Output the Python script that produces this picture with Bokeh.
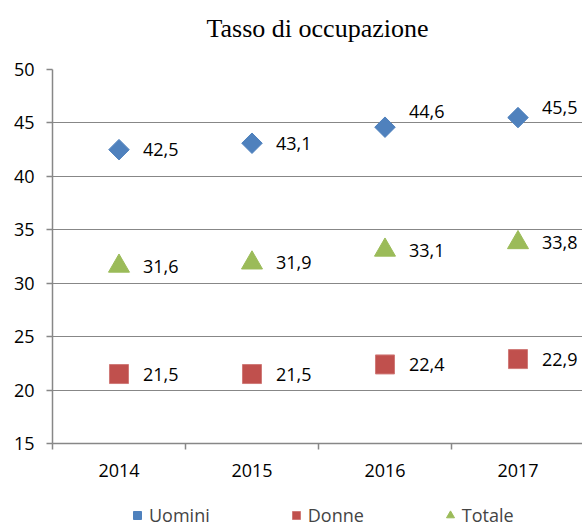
import math
from bokeh.plotting import figure
from bokeh.layouts import column
from bokeh.models import (FixedTicker, Range1d, Legend, LegendItem,
                          ColumnDataSource)
from bokeh.core.properties import value
from bokeh.embed import file_html
from bokeh.resources import INLINE

# ---- data ----
title = "Tasso di occupazione"
years = ["2014", "2015", "2016", "2017"]
uomini = [42.5, 43.1, 44.6, 45.5]
donne = [21.5, 21.5, 22.4, 22.9]
totale = [31.6, 31.9, 33.1, 33.8]
series_names = ["Uomini", "Donne", "Totale"]
y_ticks = [15, 20, 25, 30, 35, 40, 45, 50]

# ---- styles ----
BLUE, RED, GREEN = "#4F81BD", "#C0504D", "#9BBB59"
GRID = "#878787"
FONT = "Open Sans"
FS = "18px"
uomini_label_dy = [0, 0, -16, -10]

xs = [i + 1 for i in range(len(years))]


def fmt(v):
    return f"{v:.1f}".replace(".", ",")


def blank(h, left=0):
    f = figure(width=582, height=h, output_backend="svg",
               toolbar_location=None, x_range=Range1d(0, 1),
               y_range=Range1d(0, 1), x_axis_location=None,
               y_axis_location=None, min_border_left=left,
               min_border_right=0, min_border_top=0, min_border_bottom=0)
    f.grid.visible = False
    f.outline_line_color = None
    return f


# ---- title strip ----
tf = blank(56, left=43)
tf.text(x=[0.5], y=[0.5], text=[title], text_align="center",
        text_baseline="middle", text_font=value("Liberation Serif"),
        text_font_size="26px", text_color="black")

# ---- main plot ----
p = figure(width=582, height=439, output_backend="svg", toolbar_location=None,
           x_range=Range1d(0.5, 4.485), y_range=Range1d(15, 50),
           min_border_left=52, min_border_right=0, min_border_top=13,
           min_border_bottom=52)
p.outline_line_color = None
p.background_fill_color = "white"

p.xaxis.ticker = FixedTicker(ticks=xs, minor_ticks=[0.5, 1.5, 2.5, 3.5, 4.5])
p.xaxis.major_label_overrides = {x: y for x, y in zip(xs, years)}
p.xaxis.major_tick_out = 0
p.xaxis.major_tick_in = 0
p.xaxis.minor_tick_out = 6
p.xaxis.minor_tick_in = 0
p.xaxis.minor_tick_line_color = GRID
p.xaxis.minor_tick_line_width = 1.5
p.xaxis.major_label_standoff = 14

p.yaxis.ticker = FixedTicker(ticks=y_ticks)
p.yaxis.major_tick_out = 6
p.yaxis.major_tick_in = 0
p.yaxis.minor_tick_line_color = None
p.yaxis.major_tick_line_color = GRID
p.yaxis.major_tick_line_width = 1.5
p.yaxis.major_label_standoff = 12

for ax in (p.xaxis, p.yaxis):
    ax.axis_line_color = GRID
    ax.axis_line_width = 1.5
    ax.major_label_text_font = FONT
    ax.major_label_text_font_size = FS
    ax.major_label_text_color = "black"

p.xgrid.grid_line_color = None
p.ygrid.grid_line_color = GRID
p.ygrid.grid_line_width = 1.2
p.ygrid.ticker = FixedTicker(ticks=y_ticks)

U_STYLE = dict(marker="square", angle=math.pi / 4, fill_color=BLUE,
               line_color=BLUE)
D_STYLE = dict(marker="square", fill_color=RED, line_color="#D07A78",
               line_width=1)
T_STYLE = dict(marker="triangle", fill_color=GREEN, line_color=GREEN)

p.scatter(xs, uomini, size=14.5, **U_STYLE)
p.scatter(xs, donne, size=19, **D_STYLE)
p.scatter(xs, totale, size=21, **T_STYLE)


def labels(vals, dys):
    src = ColumnDataSource(dict(x=xs, y=vals, t=[fmt(v) for v in vals],
                                dy=dys))
    p.text(x="x", y="y", text="t", source=src, x_offset=24, y_offset="dy",
           text_align="left", text_baseline="middle",
           text_font=value(FONT), text_font_size=FS, text_color="black")


labels(uomini, uomini_label_dy)
labels(donne, [0, 0, 0, 0])
labels(totale, [0, 0, 0, 0])

# ---- legend strip ----
lg = blank(32)
# legend-only renderers: the series sit outside this strip's visible range
lr_u = lg.scatter(xs, uomini, size=9, **U_STYLE)
lr_d = lg.scatter(xs, donne, size=11.5, **D_STYLE)
lr_t = lg.scatter(xs, totale, size=12, **T_STYLE)

legend = Legend(items=[LegendItem(label=n, renderers=[r]) for n, r in
                       zip(series_names, [lr_u, lr_d, lr_t])],
                orientation="horizontal", location=(75, 0),
                spacing=76, glyph_width=20, glyph_height=20, label_standoff=2,
                label_height=20,
                label_text_font=FONT, label_text_font_size=FS,
                border_line_color=None, background_fill_alpha=0,
                padding=0, margin=0)
lg.add_layout(legend)

layout = column(tf, p, lg, spacing=0)
open("out.html", "w").write(file_html(layout, INLINE))
